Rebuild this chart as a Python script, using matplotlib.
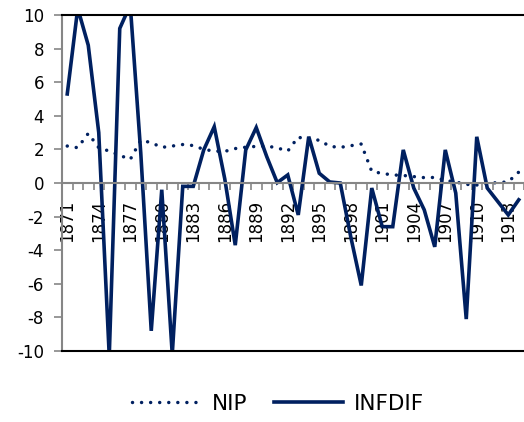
import matplotlib
matplotlib.use("Agg")
import matplotlib.pyplot as plt
import numpy as np

# データ
years = list(range(1871, 1915))
nip = [2.2, 2.1, 2.95, 2.1, 1.9, 1.65, 1.4, 2.55, 2.4, 2.12,
       2.2, 2.29, 2.23, 2.0, 1.9, 1.88, 2.05, 2.13, 2.18, 2.2,
       2.09, 1.9, 2.74, 2.53, 2.56, 2.18, 2.12, 2.22, 2.32, 0.69,
       0.57, 0.48, 0.45, 0.38, 0.32, 0.33, 0.15, 0.06, -0.08, -0.12,
       -0.01, 0.02, 0.07, 0.65]
infdif = [5.3, 10.4, 8.2, 3.0, -10.3, 9.2, 10.6, 1.8, -8.8, -0.4,
          -10.2, -0.2, -0.2, 1.97, 3.35, 0.25, -3.7, 1.97, 3.3, 1.57,
          0.02, 0.48, -1.9, 2.76, 0.58, 0.06, 0.0, -3.2, -6.1, -0.3,
          -2.6, -2.6, 1.97, -0.3, -1.6, -3.8, 1.97, -0.6, -8.1, 2.75,
          -0.3, -1.1, -1.9, -1.0]
yticks = list(range(-10, 11, 2))
label_step = 3

navy = "#002060"
grey = "#868686"

plt.rcParams["font.family"] = ["DejaVu Sans"]
plt.rcParams["axes.unicode_minus"] = False

fig = plt.figure(figsize=(5.24, 4.22), dpi=100)
ax = fig.add_axes([62 / 524, 71 / 422, 462 / 524, 336 / 422])

x = np.arange(len(years))
ax.plot(x, nip, color=navy, lw=2.5, linestyle=(0, (0.01, 2.6)),
        dash_capstyle="round", label="NIP")
ax.plot(x, infdif, color=navy, lw=2.6, solid_joinstyle="miter", label="INFDIF")

ax.set_ylim(-10, 10)
ax.set_xlim(-0.5, 43.17)

# 軸の見た目（カテゴリ軸を y=0 に置く）
ax.spines["bottom"].set_position(("data", 0))
ax.spines["bottom"].set_color(grey)
ax.spines["bottom"].set_linewidth(1.5)
ax.spines["left"].set_color(grey)
ax.spines["left"].set_linewidth(1.5)
ax.spines["right"].set_visible(False)
ax.spines["top"].set_color("black")
ax.spines["top"].set_linewidth(1.5)
ax.axhline(-10, color="black", lw=1.5, clip_on=False, zorder=3)

ax.set_yticks(yticks)
ax.tick_params(axis="y", direction="out", length=6, width=1.2, color=grey,
               labelsize=12, pad=7)

ax.set_xticks(x[::label_step])
ax.set_xticklabels([str(y) for y in years[::label_step]], rotation=90)
ax.set_xticks(np.arange(-0.5, len(years), 1.0), minor=True)
ax.tick_params(axis="x", which="major", length=0, labelsize=12, pad=12)
ax.tick_params(axis="x", which="minor", direction="out", length=5, width=1.2,
               color=grey)

fig.legend(loc="center", bbox_to_anchor=(0.53, 0.043), ncol=2, frameon=False,
           fontsize=15.5, handlelength=3.2, handletextpad=0.5,
           columnspacing=1.25)

fig.savefig("out.png", dpi=100)
